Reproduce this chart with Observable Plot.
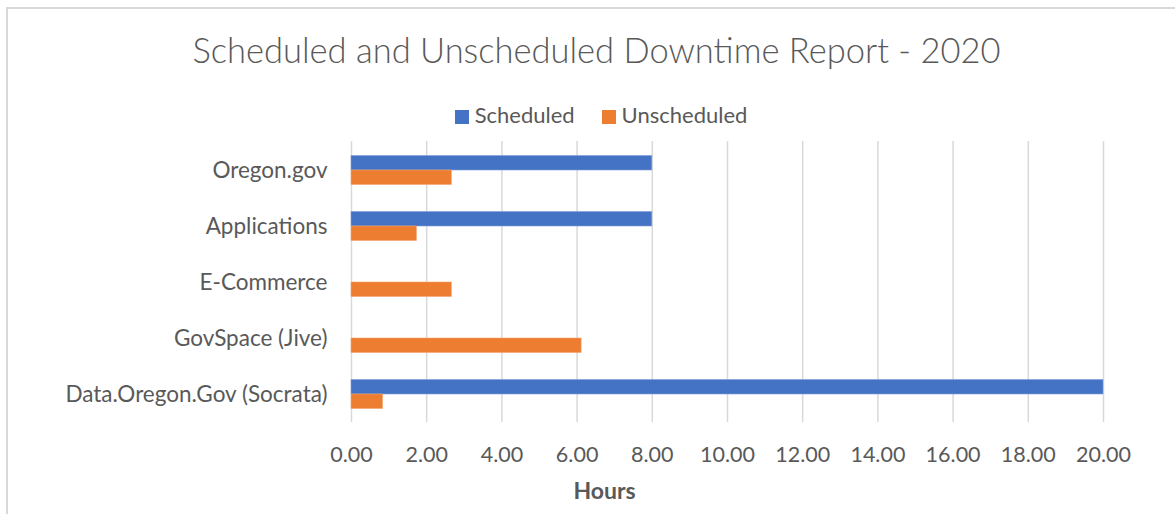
<!DOCTYPE html>
<html>
<head>
<meta charset="utf-8">
<script src="https://cdn.jsdelivr.net/npm/d3@7"></script>
<script src="https://cdn.jsdelivr.net/npm/@observablehq/plot@0.6"></script>
<style>
  html, body { margin: 0; padding: 0; background: #fff; }
  #wrap { position: relative; width: 1175px; height: 514px; overflow: hidden; background: #fff; font-family: Lato, "Open Sans", sans-serif; color: #595959; }
  #frame { position: absolute; left: 6px; top: 7px; width: 1300px; height: 700px; border-left: 2px solid #d9d9d9; border-top: 2px solid #d9d9d9; }
  #title { position: absolute; left: 0; width: 1193px; top: 29px; text-align: center; font-size: 34.5px; font-weight: 300; white-space: nowrap; }
  #legend { position: absolute; left: 0; width: 1202px; top: 101px; text-align: center; font-size: 22px; white-space: nowrap; }
  #legend span.item { display: inline-block; margin: 0 13.5px; }
  #legend span.sw { display: inline-block; width: 14px; height: 14px; margin-right: 6px; vertical-align: -1px; }
  #chart { position: absolute; left: 0; top: 130px; }
  #xlabel { position: absolute; left: 0; width: 1209px; top: 476px; text-align: center; font-size: 23px; font-weight: 700; }
</style>
</head>
<body>
<div id="wrap">
  <div id="frame"></div>
  <div id="title">Scheduled and Unscheduled Downtime Report - 2020</div>
  <div id="legend"></div>
  <div id="chart"></div>
  <div id="xlabel">Hours</div>
</div>
<script>
const categories = ["Oregon.gov", "Applications", "E-Commerce", "GovSpace (Jive)", "Data.Oregon.Gov (Socrata)"];
const scheduled = [8, 8, 0, 0, 20];
const unscheduled = [2.67, 1.74, 2.67, 6.12, 0.84];
const seriesNames = ["Scheduled", "Unscheduled"];
const seriesColors = ["#4472C4", "#ED7D31"];
const xTicks = [0, 2, 4, 6, 8, 10, 12, 14, 16, 18, 20];

const schedRows = categories.map((c, i) => ({category: c, value: scheduled[i]}));
const unschedRows = categories.map((c, i) => ({category: c, value: unscheduled[i]}));

// legend
const legend = document.getElementById("legend");
seriesNames.forEach((name, i) => {
  const item = document.createElement("span");
  item.className = "item";
  const sw = document.createElement("span");
  sw.className = "sw";
  sw.style.background = seriesColors[i];
  item.appendChild(sw);
  item.appendChild(document.createTextNode(name));
  legend.appendChild(item);
});

const chart = Plot.plot({
  width: 1175,
  height: 384,
  marginLeft: 351,
  marginRight: 72,
  marginTop: 11,
  marginBottom: 92,
  style: {fontFamily: "Lato, 'Open Sans', sans-serif", fontSize: "20px", color: "#595959", background: "transparent"},
  x: {domain: [0, 20]},
  y: {domain: categories, padding: 0},
  marks: [
    Plot.gridX(xTicks, {stroke: "#d9d9d9", strokeOpacity: 1, strokeWidth: 1.5}),
    Plot.barX(schedRows, {x: "value", y: "category", fill: seriesColors[0], stroke: "#7f9fd9", strokeWidth: 0.6, insetTop: 13.5, insetBottom: 28}),
    Plot.barX(unschedRows, {x: "value", y: "category", fill: seriesColors[1], stroke: "#f3a672", strokeWidth: 0.6, insetTop: 28, insetBottom: 13.5}),
    Plot.axisX({ticks: xTicks, tickFormat: d3.format(".2f"), tickSize: 0, tickPadding: 24, label: null, fill: "#595959", fontSize: 21.5}),
    Plot.axisY({tickSize: 0, tickPadding: 24, label: null, fill: "#595959", fontSize: 22.5})
  ]
});
document.getElementById("chart").appendChild(chart);
</script>
</body>
</html>
